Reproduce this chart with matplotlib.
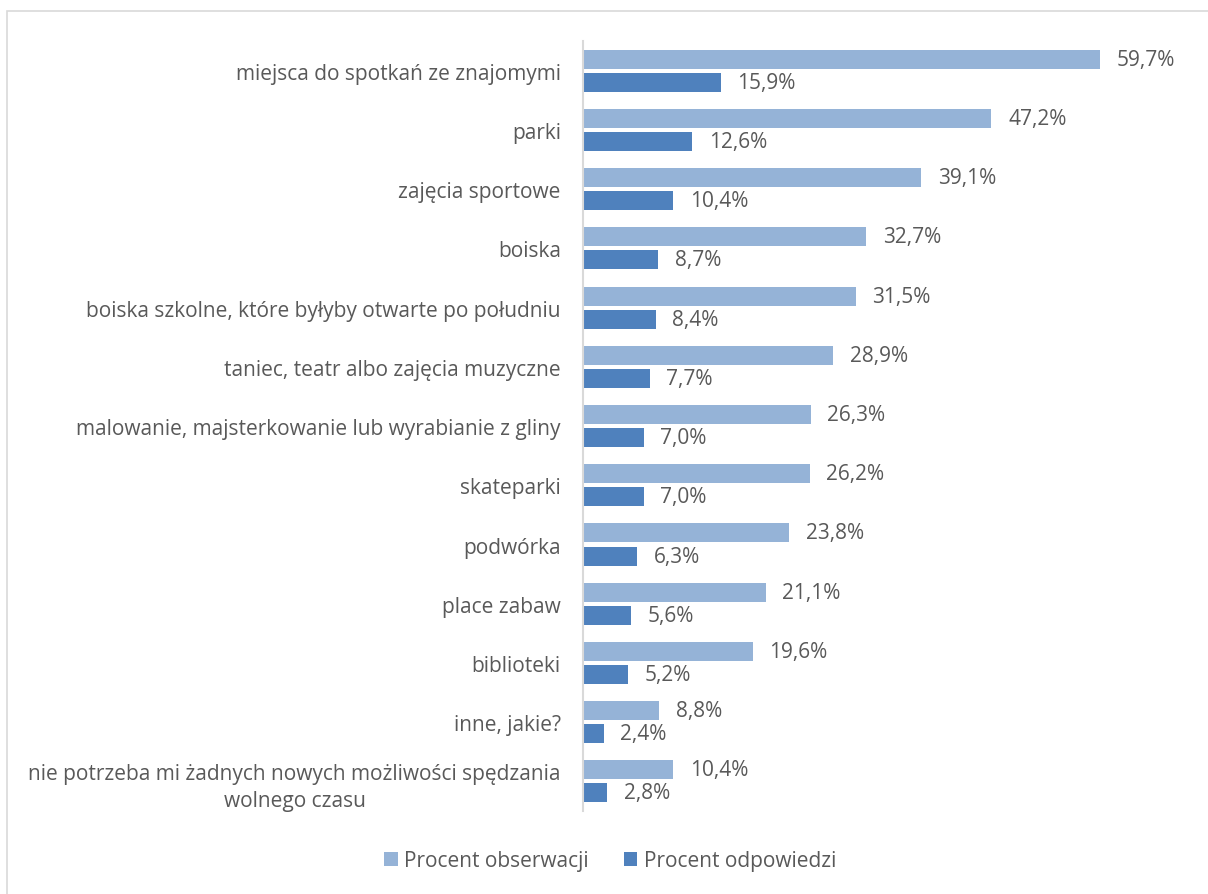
import numpy as np
import matplotlib.pyplot as plt
from matplotlib.patches import Rectangle

categories = [
    "miejsca do spotkań ze znajomymi",
    "parki",
    "zajęcia sportowe",
    "boiska",
    "boiska szkolne, które byłyby otwarte po południu",
    "taniec, teatr albo zajęcia muzyczne",
    "malowanie, majsterkowanie lub wyrabianie z gliny",
    "skateparki",
    "podwórka",
    "place zabaw",
    "biblioteki",
    "inne, jakie?",
    "nie potrzeba mi żadnych nowych możliwości spędzania\nwolnego czasu",
]
obserwacje = [59.7, 47.2, 39.1, 32.7, 31.5, 28.9, 26.3, 26.2, 23.8, 21.1, 19.6, 8.8, 10.4]
odpowiedzi = [15.9, 12.6, 10.4, 8.7, 8.4, 7.7, 7.0, 7.0, 6.3, 5.6, 5.2, 2.4, 2.8]

light = "#95B3D7"
dark = "#4F81BD"
txt = "#595959"

plt.rcParams["font.family"] = ["Open Sans", "DejaVu Sans"]
fs = 15

fig = plt.figure(figsize=(12.08, 8.95), dpi=100)
ax = fig.add_axes([0.4826, 0.0927, 0.5014, 0.8603])

y = np.arange(len(categories))
h = 0.32
off = 0.195
b1 = ax.barh(y - off, obserwacje, height=h, color=light, label="Procent obserwacji")
b2 = ax.barh(y + off, odpowiedzi, height=h, color=dark, label="Procent odpowiedzi")

for bars, vals in ((b1, obserwacje), (b2, odpowiedzi)):
    for bar, v in zip(bars, vals):
        ax.annotate(f"{v:.1f}%".replace(".", ","),
                    (bar.get_width(), bar.get_y() + bar.get_height() / 2),
                    xytext=(12, 0), textcoords="offset points",
                    ha="left", va="center", fontsize=fs, color=txt)

ax.set_xlim(0, 70)
ax.set_ylim(len(categories) - 0.5, -0.5)
ax.set_yticks(y)
ax.set_yticklabels(categories, fontsize=fs, color=txt, multialignment="center",
                   linespacing=1.35)
ax.tick_params(axis="y", length=0, pad=16)
ax.set_xticks([])
for s in ("top", "right", "bottom"):
    ax.spines[s].set_visible(False)
ax.spines["left"].set_color("#D9D9D9")
ax.spines["left"].set_linewidth(1.5)

fig.legend(handles=[b1, b2], loc="center", bbox_to_anchor=(0.505, 0.037), ncol=2,
           frameon=False, fontsize=fs, labelcolor=txt, handlelength=0.65,
           handleheight=0.65, handletextpad=0.3, columnspacing=1.7)

fig.patches.append(Rectangle((7 / 1208, -0.01), 1.1, 1 - 12 / 895 + 0.01,
                             transform=fig.transFigure, fill=False,
                             edgecolor="#D9D9D9", linewidth=1.2))

fig.savefig("out.png", dpi=100)
